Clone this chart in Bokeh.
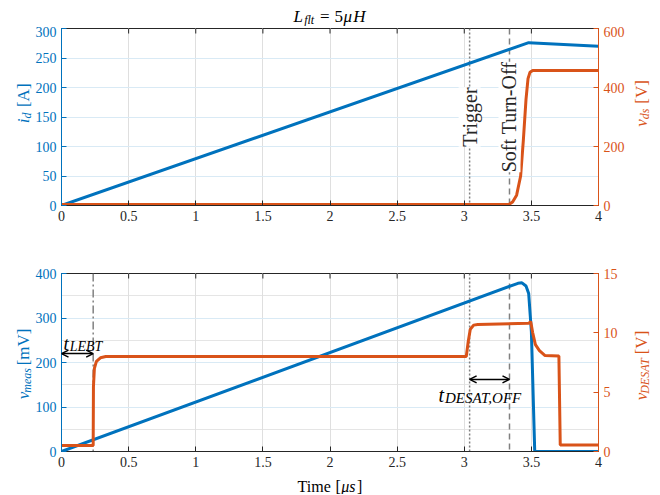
import numpy as np
from bokeh.plotting import figure
from bokeh.models import (Range1d, LinearAxis, FixedTicker, Label, Span, Arrow,
                          OpenHead, Grid, CustomJSTickFormatter)
from bokeh.layouts import column, row
from bokeh.embed import file_html
from bokeh.resources import INLINE

BLUE = "#0072BD"
ORANGE = "#D95319"
FONT = "Liberation Serif"

# ---------------- data ----------------
x_ticks = [0, 0.5, 1, 1.5, 2, 2.5, 3, 3.5, 4]
top_left_ticks = [0, 50, 100, 150, 200, 250, 300]
top_right_ticks = [0, 200, 400, 600]
bot_left_ticks = [0, 100, 200, 300, 400]
bot_right_ticks = [0, 5, 10, 15]

t_id = [0, 3.48, 4.0]
i_d = [0, 276, 270]

t_vds = [0, 3.30, 3.335, 3.36, 3.39, 3.42, 3.44, 3.46, 3.475, 3.49, 3.51, 4.0]
v_ds = [3, 3, 4, 12, 35, 100, 220, 360, 430, 452, 458, 458]

t_meas = [0, 3.40, 3.43, 3.46, 3.48, 3.50, 3.525, 4.0]
v_meas = [0, 378, 379, 372, 355, 270, 0, 0]

t_desat = [0, 0.236, 0.238, 0.245, 0.26, 0.29, 0.33, 3.015, 3.03, 3.045, 3.07,
           3.10, 3.48, 3.495, 3.51, 3.53, 3.56, 3.60, 3.705, 3.715, 4.0]
v_desat = [0.5, 0.5, 5.5, 7.0, 7.6, 7.9, 8.0, 8.0, 9.3, 10.3, 10.65,
           10.7, 10.8, 10.95, 10.0, 9.0, 8.5, 8.1, 8.05, 0.55, 0.55]

t_trigger = 3.04
t_softoff = 3.337
t_lebt = 0.236

# ---------------- text helpers ----------------
W_REG = {' ': 0.25, '[': 0.333, ']': 0.333, 'A': 0.722, 'V': 0.722, 'm': 0.778,
         'T': 0.611, 'i': 0.278, 'e': 0.444, '=': 0.564, 'μ': 0.5}
W_IT = {'i': 0.278, 'd': 0.5, 's': 0.389, 'v': 0.444, 'm': 0.722, 'e': 0.444,
        'a': 0.5, 't': 0.278, 'L': 0.556, 'E': 0.611, 'B': 0.611, 'T': 0.556,
        'D': 0.722, 'S': 0.5, 'A': 0.611, 'O': 0.722, 'F': 0.611, ',': 0.25,
        'f': 0.278, 'l': 0.278, 'H': 0.722, 'μ': 0.5}


def tw(s, italic, size):
    tbl = W_IT if italic else W_REG
    k = 1.08 if italic else 1.0
    return sum(tbl.get(c, 0.5) for c in s) * size * k


def rich(p, x, y, parts, angle=0.0, color="black", align="center", offsets=False):
    """parts: (text, italic, size, baseline_shift, gap_before)"""
    total = sum(tw(t, it, sz) + g for t, it, sz, sh, g in parts)
    s = -total / 2 if align == "center" else 0
    for t, it, sz, sh, g in parts:
        s += g
        if angle == 0:
            xo, yo = s, sh
        else:
            xo, yo = -sh, s
        kw = dict(text=t, angle=angle, text_align="left", text_baseline="alphabetic",
                  text_font=FONT, text_font_style="italic" if it else "normal",
                  text_font_size=f"{sz}px", text_color=color)
        if offsets:
            p.add_layout(Label(x=x, y=y, x_offset=xo, y_offset=yo, **kw))
        else:
            p.add_layout(Label(x=x + xo, y=y + yo, **kw))
        s += tw(t, it, sz)


fmt = CustomJSTickFormatter(code="return String(tick)")


def style_axis(ax, color, ticks):
    ax.ticker = FixedTicker(ticks=ticks)
    ax.formatter = fmt
    ax.axis_line_color = color
    ax.axis_line_width = 1
    ax.major_tick_line_color = color
    ax.major_tick_in = 5
    ax.major_tick_out = 0
    ax.minor_tick_line_color = None
    ax.major_label_text_font = FONT
    ax.major_label_text_font_size = "14px"
    ax.major_label_text_color = color
    ax.major_label_standoff = 5


FW = 537          # frame width
LW, RW = 32, 30   # side text strips
ML, MR = 29, 30   # main-figure borders


def make_fig(frame_h, yl, yr, ly, ry, top, bottom):
    p = figure(frame_width=FW, frame_height=frame_h, x_range=Range1d(0, 4),
               y_range=Range1d(*yl), output_backend="svg", toolbar_location=None,
               min_border_left=ML, min_border_right=MR, min_border_top=top,
               min_border_bottom=bottom, x_axis_location=None, y_axis_location=None)
    p.extra_y_ranges = {"r": Range1d(*yr)}
    p.outline_line_color = "#262626"
    p.background_fill_color = "white"
    p.border_fill_color = "white"
    xt = FixedTicker(ticks=x_ticks)
    p.add_layout(Grid(dimension=0, ticker=xt, grid_line_color="#dfdfdf"))
    p.add_layout(Grid(dimension=1, ticker=FixedTicker(ticks=ly), grid_line_color="#d9eaf5"))
    below = LinearAxis()
    style_axis(below, "#262626", x_ticks)
    p.add_layout(below, "below")
    left = LinearAxis()
    style_axis(left, BLUE, ly)
    p.add_layout(left, "left")
    right = LinearAxis(y_range_name="r")
    style_axis(right, ORANGE, ry)
    p.add_layout(right, "right")
    # inward tick marks along the top edge of the box
    tick_len = (yl[1] - yl[0]) * 5.0 / frame_h
    p.segment(x0=x_ticks, y0=[yl[1]] * len(x_ticks), x1=x_ticks,
              y1=[yl[1] - tick_len] * len(x_ticks), line_color="#262626", line_width=1)
    return p


def text_fig(w, h):
    p = figure(width=w, height=h, x_range=Range1d(0, w), y_range=Range1d(0, h),
               output_backend="svg", toolbar_location=None, min_border=0,
               min_border_left=0, min_border_right=0, min_border_top=0,
               min_border_bottom=0, x_axis_location=None, y_axis_location=None)
    p.title = None
    p.center = []
    p.outline_line_color = None
    p.background_fill_color = "white"
    p.border_fill_color = "white"
    return p


TOTAL_W = LW + ML + FW + MR + RW

# ---------------- title strip ----------------
TITLE_H = 26
pt = text_fig(TOTAL_W, TITLE_H)
cx = LW + ML + FW / 2
rich(pt, cx, TITLE_H - 16, [("L", True, 17, 0, 0), ("flt", True, 12, -3, 0.5),
                            ("=", False, 17, 0, 5), ("5", False, 17, 0, 5),
                            ("μ", True, 17, 0, 0.5), ("H", True, 17, 0, 0.5)])

# ---------------- top panel ----------------
T_TOP, T_FH, T_BOT = 2, 177, 30
TH = T_TOP + T_FH + T_BOT
p1 = make_fig(T_FH, (0, 300), (0, 600), top_left_ticks, top_right_ticks, T_TOP, T_BOT)
p1.add_layout(Span(location=t_trigger, dimension="height", line_color="#808080",
                   line_dash="2 2", line_width=1.5, level="underlay"))
p1.add_layout(Span(location=t_softoff, dimension="height", line_color="#808080",
                   line_dash="6 4", line_width=1.5, level="underlay"))
p1.line(t_id, i_d, line_color=BLUE, line_width=3)
p1.line(t_vds, v_ds, line_color=ORANGE, line_width=3, y_range_name="r")
for tx, txt in [(t_trigger, "Trigger"), (t_softoff, "Soft Turn-Off")]:
    p1.add_layout(Label(x=tx, y=150, text=txt, angle=np.pi / 2, text_align="center",
                        text_baseline="middle", text_font=FONT, text_font_size="20px",
                        text_color="#262626", background_fill_color="white"))
l1 = text_fig(LW, TH)
rich(l1, 23, T_BOT + T_FH / 2, [("i", True, 17, 0, 0), ("d", True, 12, -3, 0.5),
                                ("[A]", False, 17, 0, 7)], angle=np.pi / 2, color=BLUE)
r1 = text_fig(RW, TH)
rich(r1, 13, T_BOT + T_FH / 2, [("v", True, 17, 0, 0), ("ds", True, 12, -3, 0.5),
                                ("[V]", False, 17, 0, 7)], angle=np.pi / 2, color=ORANGE)

# ---------------- bottom panel ----------------
B_TOP, B_FH, B_BOT = 38, 178, 22
BH = B_TOP + B_FH + B_BOT
p2 = make_fig(B_FH, (0, 400), (0, 15), bot_left_ticks, bot_right_ticks, B_TOP, B_BOT)
p2.add_layout(Span(location=t_lebt, dimension="height", line_color="#808080",
                   line_dash="8 3 2 3", line_width=1.5, level="underlay"))
p2.add_layout(Span(location=t_trigger, dimension="height", line_color="#808080",
                   line_dash="2 2", line_width=1.5, level="underlay"))
p2.add_layout(Span(location=t_softoff, dimension="height", line_color="#808080",
                   line_dash="6 4", line_width=1.5, level="underlay"))
p2.line(t_meas, v_meas, line_color=BLUE, line_width=3)
p2.line(t_desat, v_desat, line_color=ORANGE, line_width=3, y_range_name="r")

for xs, xe, yy in [(0, t_lebt, 220), (t_trigger, t_softoff, 162)]:
    p2.add_layout(Arrow(x_start=xs, y_start=yy, x_end=xe, y_end=yy, line_width=1.5,
                        line_color="black",
                        start=OpenHead(size=7, line_width=1.5, line_color="black"),
                        end=OpenHead(size=7, line_width=1.5, line_color="black")))

rich(p2, 0, 243, [("t", True, 19, 0, 2), ("LEBT", True, 14, -3, 0.5)],
     align="left", offsets=True)
rich(p2, 2.808, 126, [("t", True, 20, 0, 0), ("DESAT,OFF", True, 15, -3, 0.5)],
     align="left", offsets=True)
l2 = text_fig(LW, BH)
rich(l2, 23, B_BOT + B_FH / 2, [("v", True, 17, 0, 0), ("meas", True, 12, -3, 0.5),
                                ("[mV]", False, 17, 0, 10)], angle=np.pi / 2, color=BLUE)
r2 = text_fig(RW, BH)
rich(r2, 13, B_BOT + B_FH / 2, [("v", True, 17, 0, 0), ("DESAT", True, 12, -3, 0.5),
                                ("[V]", False, 17, 0, 14)], angle=np.pi / 2, color=ORANGE)

# ---------------- x label strip ----------------
XL_H = 21
px = text_fig(TOTAL_W, XL_H)
rich(px, cx, XL_H - 13, [("Time", False, 16, 0, 0), ("[", False, 16, 0, 4),
                         ("μs", True, 16, 0, 0.5), ("]", False, 16, 0, 0.5)])

layout = column(pt, row(l1, p1, r1, spacing=0), row(l2, p2, r2, spacing=0), px, spacing=0)
open("out.html", "w").write(file_html(layout, INLINE))
